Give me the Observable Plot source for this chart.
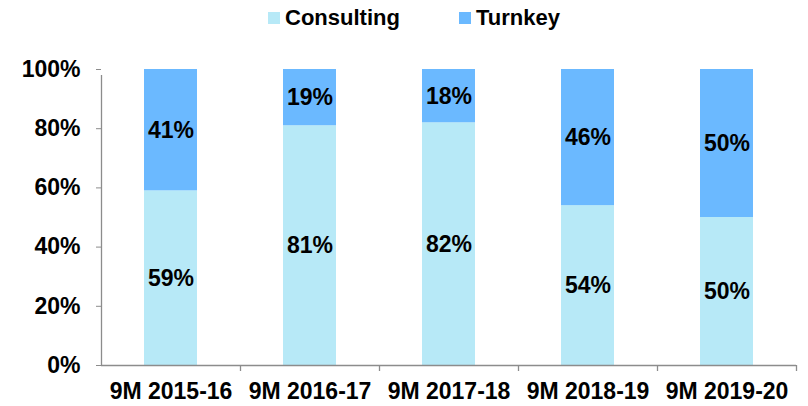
<!DOCTYPE html>
<html>
<head>
<meta charset="utf-8">
<script src="https://cdn.jsdelivr.net/npm/d3@7"></script>
<script src="https://cdn.jsdelivr.net/npm/@observablehq/plot@0.6"></script>
<style>
  html, body { margin: 0; padding: 0; background: #fff; }
  #wrap { width: 808px; height: 406px; position: relative; font-family: "Liberation Sans", Arial, sans-serif; }
  #legend { position: relative; height: 35px; font-weight: bold; font-size: 22px; color: #000; }
  .item { position: absolute; top: 5px; display: flex; align-items: center; height: 26px; }
  .sw { width: 12px; height: 12px; margin-right: 5px; }
  svg { display: block; }
</style>
</head>
<body>
<div id="wrap">
  <div id="legend"></div>
  <div id="chart"></div>
</div>
<script>
const categories = ["9M 2015-16", "9M 2016-17", "9M 2017-18", "9M 2018-19", "9M 2019-20"];
const series = ["Consulting", "Turnkey"];
const consulting = [59, 81, 82, 54, 50];
const turnkey = [41, 19, 18, 46, 50];
const colors = ["#B7E9F7", "#6BB9FF"];
const yTicks = [0, 20, 40, 60, 80, 100];

const data = categories.flatMap((c, i) => [
  {cat: c, series: "Consulting", value: consulting[i]},
  {cat: c, series: "Turnkey", value: turnkey[i]}
]);

// legend
const legend = document.getElementById("legend");
const legendX = [268, 459];
series.forEach((s, i) => {
  const it = document.createElement("div");
  it.className = "item";
  it.style.left = legendX[i] + "px";
  const sw = document.createElement("span");
  sw.className = "sw";
  sw.style.background = colors[i];
  const tx = document.createElement("span");
  tx.textContent = s;
  it.appendChild(sw);
  it.appendChild(tx);
  legend.appendChild(it);
});

const W = 808, H = 371, ML = 101, MR = 12, MT = 34, MB = 41;
const step = (W - ML - MR) / categories.length;
const axisColor = "#8c8c8c";

const chart = Plot.plot({
  width: W,
  height: H,
  marginLeft: ML,
  marginRight: MR,
  marginTop: MT,
  marginBottom: MB,
  style: {fontFamily: "'Liberation Sans', Arial, sans-serif", fontWeight: "bold", fontSize: "23px", color: "#000", background: "#fff"},
  x: {domain: categories, paddingInner: 0.62, paddingOuter: 0.31},
  y: {domain: [0, 100]},
  color: {domain: series, range: colors},
  marks: [
    Plot.barY(data, Plot.stackY({x: "cat", y: "value", fill: "series"})),
    Plot.text(data, Plot.stackY({x: "cat", y: "value", z: "series", text: d => d.value + "%", fontSize: 23, fontWeight: "bold", fill: "#000"})),
    Plot.axisY({ticks: yTicks, tickFormat: d => d + "%", tickSize: 5, tickPadding: 16, stroke: axisColor, fill: "#000", fontSize: 23, fontWeight: "bold", label: null}),
    Plot.axisX({tickSize: 0, tickPadding: 17, fill: "#000", fontSize: 23, fontWeight: "bold", label: null}),
    Plot.ruleY([0], {stroke: axisColor, strokeWidth: 1.3}),
    Plot.ruleX([categories[0]], {x: d => d, y1: 0, y2: 100, dx: -step / 2, insetBottom: -6, stroke: axisColor, strokeWidth: 1.3}),
    Plot.ruleX(categories, {x: d => d, y1: 0, y2: 0, dx: step / 2, insetBottom: -6, stroke: axisColor, strokeWidth: 1.3})
  ]
});
document.getElementById("chart").appendChild(chart);
</script>
</body>
</html>
